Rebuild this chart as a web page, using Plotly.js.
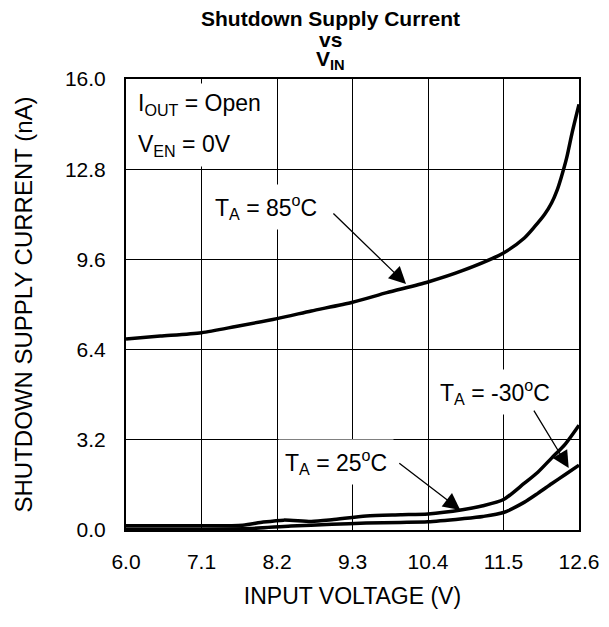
<!DOCTYPE html>
<html>
<head>
<meta charset="utf-8">
<script src="https://cdn.plot.ly/plotly-3.0.1.min.js"></script>
<style>html,body{margin:0;padding:0;background:#fff;}#chart{width:609px;height:627px;}</style>
</head>
<body>
<div id="chart"></div>
<script>
// Data
var xTicks = [6.0, 7.1, 8.2, 9.3, 10.4, 11.5, 12.6];
var xTickLabels = ["6.0", "7.1", "8.2", "9.3", "10.4", "11.5", "12.6"];
var yTicks = [0, 3.2, 6.4, 9.6, 12.8, 16.0];
var yTickLabels = ["0.0", "3.2", "6.4", "9.6", "12.8", "16.0"];

var vin85 = [6.0, 6.5, 7.1, 7.6, 8.2, 8.7, 9.3, 9.8, 10.4, 10.9, 11.5, 11.8, 11.95, 12.1, 12.2, 12.28, 12.34, 12.42, 12.5, 12.6];
var i85 = [6.78, 6.88, 7.0, 7.22, 7.5, 7.77, 8.08, 8.42, 8.8, 9.2, 9.83, 10.35, 10.75, 11.2, 11.6, 12.05, 12.5, 13.2, 14.1, 15.1];

var vin25 = [6.0, 7.1, 7.7, 8.0, 8.3, 8.7, 9.0, 9.5, 10.0, 10.4, 10.9, 11.2, 11.5, 11.8, 12.0, 12.2, 12.4, 12.6];
var i25 = [0.15, 0.15, 0.17, 0.28, 0.35, 0.3, 0.36, 0.5, 0.54, 0.57, 0.72, 0.86, 1.08, 1.65, 2.05, 2.55, 3.05, 3.72];

var vinM30 = [6.0, 7.1, 7.8, 8.4, 9.0, 9.5, 10.0, 10.4, 10.9, 11.2, 11.5, 11.8, 12.0, 12.2, 12.4, 12.6];
var iM30 = [0.03, 0.03, 0.05, 0.14, 0.2, 0.25, 0.27, 0.29, 0.4, 0.48, 0.62, 0.98, 1.3, 1.64, 1.97, 2.3];

var FONT = "Liberation Sans, Arial, Helvetica, sans-serif";

function curve(x, y, name) {
  return {
    x: x, y: y, name: name, type: "scatter", mode: "lines",
    line: {color: "#000", width: 3.5, shape: "spline", smoothing: 0.7},
    hoverinfo: "skip", cliponaxis: true
  };
}

var traces = [
  curve(vin85, i85, "85°C"),
  curve(vin25, i25, "25°C"),
  curve(vinM30, iM30, "-30°C")
];

function label(text, x, y, anchor) {
  return {
    text: text, x: x, y: y, xref: "x", yref: "y",
    xanchor: anchor || "center", yanchor: "middle",
    showarrow: false, bgcolor: "#fff", borderpad: 6,
    font: {family: FONT, size: 23, color: "#000"}
  };
}
function arrow(xh, yh, xt, yt) {
  return {
    text: "", x: xh, y: yh, ax: xt, ay: yt,
    xref: "x", yref: "y", axref: "x", ayref: "y",
    showarrow: true, arrowhead: 2, arrowsize: 2.6, arrowwidth: 1.3,
    arrowcolor: "#000"
  };
}
function titleLine(text, py, size) {
  return {
    text: text, xref: "paper", yref: "paper",
    x: (330 - 126) / 453, y: (530 - py) / 451,
    xanchor: "center", yanchor: "middle", showarrow: false,
    font: {family: FONT, size: size, color: "#000"}
  };
}

var annotations = [
  titleLine("<b>Shutdown Supply Current</b>", 18, 21),
  titleLine("<b>vs</b>", 39, 21),
  titleLine("<b>V<sub>IN</sub></b>", 60, 21),
  label("I<sub>OUT</sub> = Open", 6.07, 15.1, "left"),
  label("V<sub>EN</sub> = 0V", 6.07, 13.65, "left"),
  label("T<sub>A</sub> = 85<sup>o</sup>C", 8.04, 11.45),
  label("T<sub>A</sub> = 25<sup>o</sup>C", 9.06, 2.4),
  label("T<sub>A</sub> = -30<sup>o</sup>C", 11.38, 4.9),
  arrow(10.08, 8.73, 9.0, 11.28),
  arrow(10.87, 0.71, 9.96, 2.41),
  arrow(12.45, 2.2, 11.93, 4.29)
];

var layout = {
  width: 609, height: 627,
  margin: {l: 126, r: 30, t: 79, b: 97, pad: 0},
  paper_bgcolor: "#fff", plot_bgcolor: "#fff",
  showlegend: false,
  font: {family: FONT, size: 21, color: "#000"},
  xaxis: {
    range: [6.0, 12.6], tickmode: "array", tickvals: xTicks, ticktext: xTickLabels,
    showgrid: true, gridcolor: "#000", gridwidth: 1, zeroline: false,
    showline: true, mirror: true, linecolor: "#000", linewidth: 2,
    ticks: "outside", ticklen: 12, tickcolor: "rgba(0,0,0,0)",
    tickfont: {family: FONT, size: 21, color: "#000"},
    title: {text: "INPUT VOLTAGE (V)", standoff: 16, font: {family: FONT, size: 23, color: "#000"}},
    fixedrange: true
  },
  yaxis: {
    range: [0, 16], tickmode: "array", tickvals: yTicks, ticktext: yTickLabels,
    showgrid: true, gridcolor: "#000", gridwidth: 1, zeroline: false,
    showline: true, mirror: true, linecolor: "#000", linewidth: 2,
    ticks: "outside", ticklen: 14, tickcolor: "rgba(0,0,0,0)",
    tickfont: {family: FONT, size: 21, color: "#000"},
    title: {text: "SHUTDOWN SUPPLY CURRENT (nA)", standoff: 26, font: {family: FONT, size: 24, color: "#000"}},
    fixedrange: true
  },
  annotations: annotations
};

Plotly.newPlot("chart", traces, layout, {displayModeBar: false, staticPlot: true});
</script>
</body>
</html>
